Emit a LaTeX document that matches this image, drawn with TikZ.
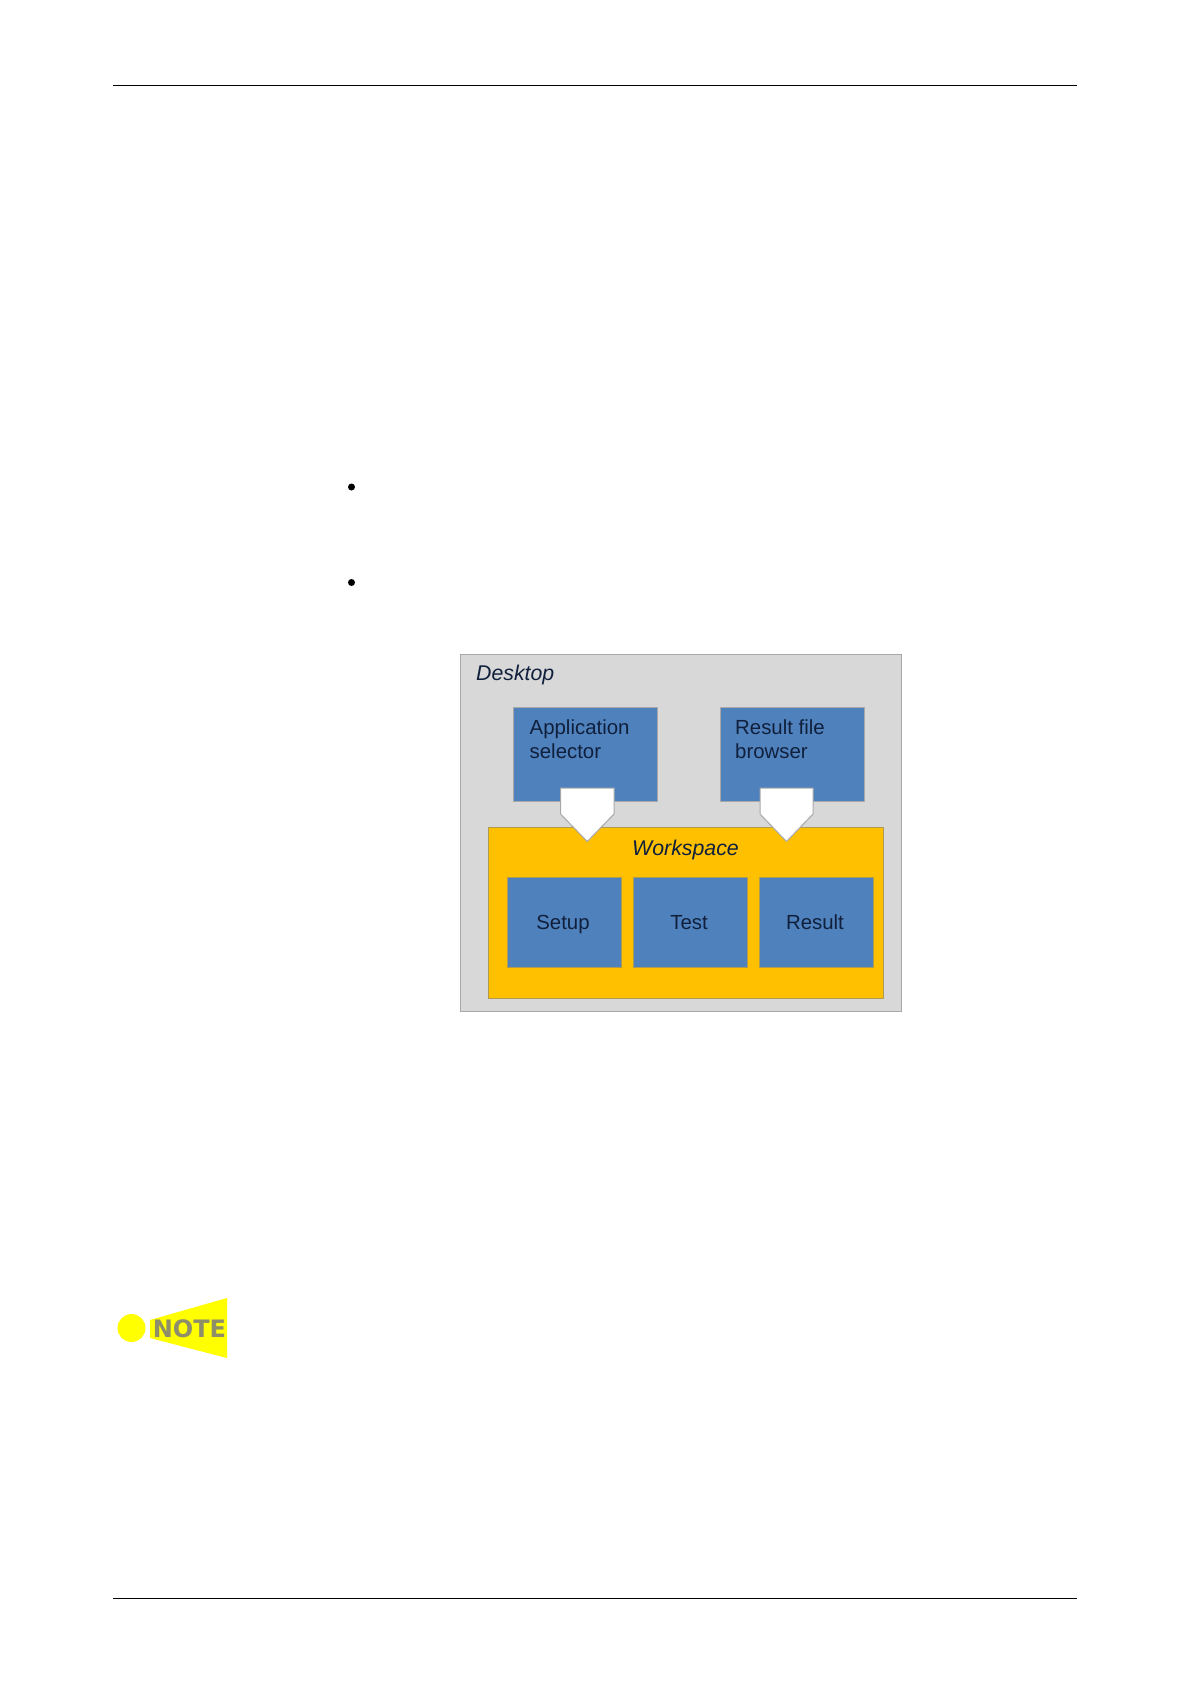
\documentclass[tikz,border=0pt]{standalone}
\usepackage{fontspec}
\setmainfont{Liberation Sans}
\newfontfamily\notefont{DejaVu Sans}
\definecolor{deskfill}{HTML}{D8D8D8}
\definecolor{edgegray}{HTML}{A8A8A8}
\definecolor{bluefill}{HTML}{4F81BD}
\definecolor{wsfill}{HTML}{FFC000}
\definecolor{wsedge}{HTML}{B09A50}
\definecolor{inktext}{HTML}{10203C}
\definecolor{notegray}{HTML}{8E8E6A}
\definecolor{noteyellow}{HTML}{FFFF00}
\tikzset{
  pagerule/.style={draw=black,line width=0.8pt},
  areabox/.style={draw=edgegray,line width=1pt,anchor=north west,inner sep=0pt,outer sep=0pt},
  deskbox/.style={areabox,fill=deskfill,minimum width=441pt,minimum height=357pt},
  wsbox/.style={areabox,draw=wsedge,fill=wsfill,minimum width=395pt,minimum height=171pt},
  topbox/.style={areabox,fill=bluefill,minimum width=144pt,minimum height=94pt},
  tabbox/.style={areabox,draw=wsedge,fill=bluefill,minimum width=114pt,minimum height=90pt},
  label/.style={text=inktext,font=\fontsize{20.4}{24}\selectfont,inner sep=0pt},
  ital/.style={label,font=\fontsize{21.3}{26}\selectfont\itshape},
  downarrow/.style={draw=edgegray,fill=white,line width=1pt,line join=miter},
  bulletdot/.style={circle,fill=black,inner sep=0pt,minimum size=7pt}
}
\begin{document}
\begin{tikzpicture}[x=1pt,y=-1pt]
\useasboundingbox (0,0) rectangle (1190,1684);
\fill[white] (0,0) rectangle (1190,1684);
% page rules
\coordinate (tl) at (113,85.5);
\coordinate (tr) at (1077,85.5);
\coordinate (bl) at (113,1598.5);
\coordinate (br) at (1077,1598.5);
\draw[pagerule] (tl) -- (tr);
\draw[pagerule] (bl) -- (br);
% bullets
\node[bulletdot] (b1) at (351.5,487) {};
\node[bulletdot] (b2) at (351.5,582.5) {};
% diagram
\node[deskbox] (desk) at (460.5,654.5) {};
\node[topbox] (app) at (513.5,707.5) {};
\node[topbox] (rfb) at (720.5,707.5) {};
\node[wsbox] (ws) at (488.5,827.5) {};
\node[tabbox] (setup) at (507.5,877.5) {};
\node[tabbox] (test) at (633.5,877.5) {};
\node[tabbox] (result) at (759.5,877.5) {};
\draw[downarrow] (560.5,788) -- (614,788) -- (614,814) -- (587.3,841.5) -- (560.5,814) -- cycle;
\draw[downarrow] (760,788) -- (813,788) -- (813,814) -- (786.5,841.5) -- (760,814) -- cycle;
\node[ital,anchor=base west] (tdesk) at (476,680) {Desktop};
\node[ital,anchor=base] (tws) at (685.5,855) {Workspace};
\node[label,anchor=base west] (tapp1) at (529.5,734) {Application};
\node[label,anchor=base west] (tapp2) at (529.5,758) {selector};
\node[label,anchor=base west] (trf1) at (735,734) {Result file};
\node[label,anchor=base west] (trf2) at (735,758) {browser};
\node[label,anchor=base] (tsetup) at (563,929) {Setup};
\node[label,anchor=base] (ttest) at (689,929) {Test};
\node[label,anchor=base] (tresult) at (815,929) {Result};
% NOTE icon
\node[circle,fill=noteyellow,inner sep=0pt,minimum size=28pt] (notedot) at (131.5,1328) {};
\fill[noteyellow] (150,1320) -- (227,1298) -- (227,1358) -- (150,1338) -- cycle;
\node[text=notegray,font=\fontsize{24}{24}\selectfont\notefont\bfseries,inner sep=0pt,anchor=base] (notetxt) at (189.5,1337) {NOTE};
\end{tikzpicture}
\end{document}
